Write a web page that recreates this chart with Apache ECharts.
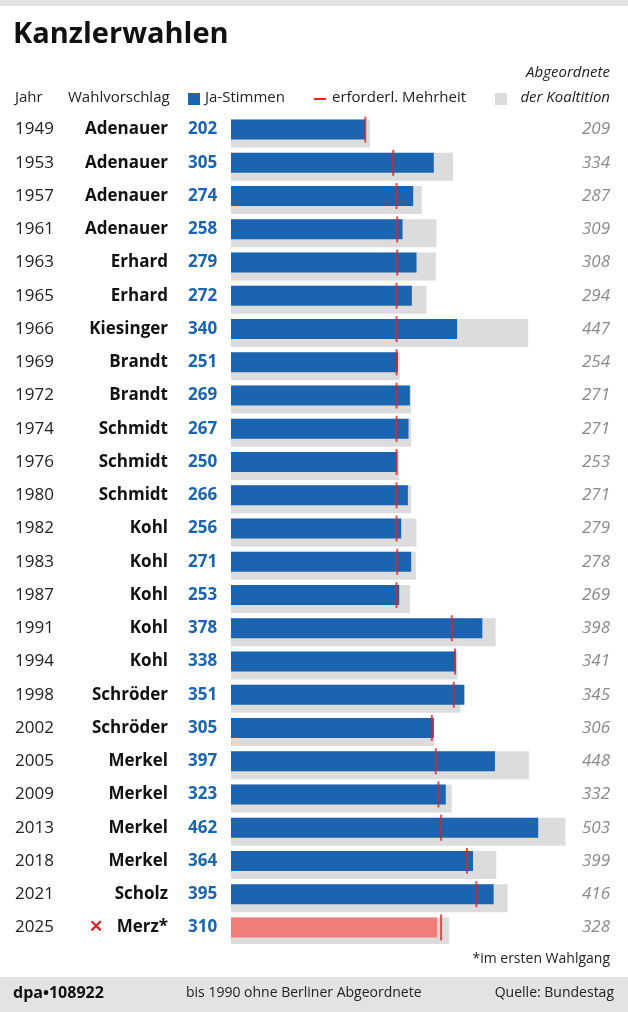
<!DOCTYPE html>
<html lang="de">
<head>
<meta charset="UTF-8">
<title>Kanzlerwahlen</title>
<style>
  html, body { margin: 0; height: 100%; overflow: hidden; background: #fff; }
  #main { width: 628px; height: 1012px; }
</style>
</head>
<body>
<div id="main"></div>
<script src="https://cdn.jsdelivr.net/npm/echarts@6/dist/echarts.min.js"></script>
<script>
// Daten
const years = ['1949','1953','1957','1961','1963','1965','1966','1969','1972','1974','1976','1980','1982','1983','1987','1991','1994','1998','2002','2005','2009','2013','2018','2021','2025'];
const names = ['Adenauer','Adenauer','Adenauer','Adenauer','Erhard','Erhard','Kiesinger','Brandt','Brandt','Schmidt','Schmidt','Schmidt','Kohl','Kohl','Kohl','Kohl','Kohl','Schröder','Schröder','Merkel','Merkel','Merkel','Merkel','Scholz','Merz*'];
const jaStimmen = [202,305,274,258,279,272,340,251,269,267,250,266,256,271,253,378,338,351,305,397,323,462,364,395,310];
const mehrheit = [202,244,249,250,250,249,249,249,249,249,249,249,249,250,249,332,337,335,302,308,312,316,355,369,316];
const koalition = [209,334,287,309,308,294,447,254,271,271,253,271,279,278,269,398,341,345,306,448,332,503,399,416,328];

const font = '"Open Sans", sans-serif';
const blue = '#1a64b0';
const last = years.length - 1;

var myChart = echarts.init(document.getElementById('main'));

function catAxis(data, label, position) {
    return {
        type: 'category', inverse: true, data: data, position: position || 'left',
        axisLine: { show: false }, axisTick: { show: false },
        axisLabel: Object.assign({ fontSize: 17, fontFamily: font, interval: 0 }, label)
    };
}

var option = {
    animation: false,
    textStyle: { fontFamily: font },
    grid: { left: 231, right: 18, top: 113, bottom: 68 },
    xAxis: { type: 'value', min: 0, max: 570, show: false },
    yAxis: [
        catAxis(jaStimmen, { align: 'left', margin: 43, fontWeight: 'bold', color: blue }),
        catAxis(names, {
            align: 'right', margin: 63, fontWeight: 'bold', color: '#111',
            formatter: (v, i) => i === last ? '{x|✕}   ' + v : v,
            rich: { x: { fontSize: 17, color: '#d6262b', fontFamily: font } }
        }),
        catAxis(years, { align: 'left', margin: 216, color: '#222' }),
        catAxis(koalition, { inside: true, margin: 0, align: 'right', fontStyle: 'italic', color: '#8a8a8a' }, 'right')
    ],
    series: [
        {
            type: 'bar', data: koalition, barWidth: 28, barGap: '-100%',
            itemStyle: { color: '#dcdcdc' }, silent: true
        },
        {
            type: 'bar', barWidth: 20, barGap: '-100%',
            data: jaStimmen.map((v, i) => i === last ? { value: v, itemStyle: { color: '#f07e78' } } : v),
            itemStyle: { color: blue }
        },
        {
            type: 'scatter', symbol: 'rect', symbolSize: [2, 26],
            data: mehrheit.map((v, i) => [v, i]),
            itemStyle: { color: '#d6262b' }, z: 5
        }
    ],
    graphic: [
        { type: 'rect', shape: { x: 0, y: 0, width: 628, height: 6 }, style: { fill: '#e3e3e3' } },
        { type: 'text', left: 13, top: 20, style: { text: 'Kanzlerwahlen', font: 'bold 29px ' + font, fill: '#111' } },
        { type: 'text', left: 15, top: 90, style: { text: 'Jahr', font: '15px ' + font, fill: '#222' } },
        { type: 'text', left: 68, top: 90, style: { text: 'Wahlvorschlag', font: '15px ' + font, fill: '#222' } },
        { type: 'rect', shape: { x: 188, y: 93, width: 12, height: 12 }, style: { fill: blue } },
        { type: 'text', left: 205, top: 90, style: { text: 'Ja-Stimmen', font: '15px ' + font, fill: '#222' } },
        { type: 'rect', shape: { x: 314, y: 98, width: 12, height: 2 }, style: { fill: '#d6262b' } },
        { type: 'text', left: 332, top: 90, style: { text: 'erforderl. Mehrheit', font: '15px ' + font, fill: '#222' } },
        { type: 'rect', shape: { x: 495, y: 93, width: 12, height: 12 }, style: { fill: '#dcdcdc' } },
        { type: 'text', right: 18, top: 65, style: { text: 'Abgeordnete', font: 'italic 15px ' + font, fill: '#222', align: 'right' } },
        { type: 'text', right: 18, top: 90, style: { text: 'der Koaltition', font: 'italic 15px ' + font, fill: '#222', align: 'right' } },
        { type: 'text', right: 18, top: 952, style: { text: '*im ersten Wahlgang', font: '14px ' + font, fill: '#222' } },
        { type: 'rect', shape: { x: 0, y: 977, width: 628, height: 35 }, style: { fill: '#e3e3e3' } },
        { type: 'text', left: 13, top: 985, style: { text: 'dpa•108922', font: 'bold 16px ' + font, fill: '#111' } },
        { type: 'text', left: 186, top: 986, style: { text: 'bis 1990 ohne Berliner Abgeordnete', font: '14px ' + font, fill: '#222' } },
        { type: 'text', right: 14, top: 986, style: { text: 'Quelle: Bundestag', font: '14px ' + font, fill: '#222' } }
    ]
};

myChart.setOption(option);
</script>
</body>
</html>
